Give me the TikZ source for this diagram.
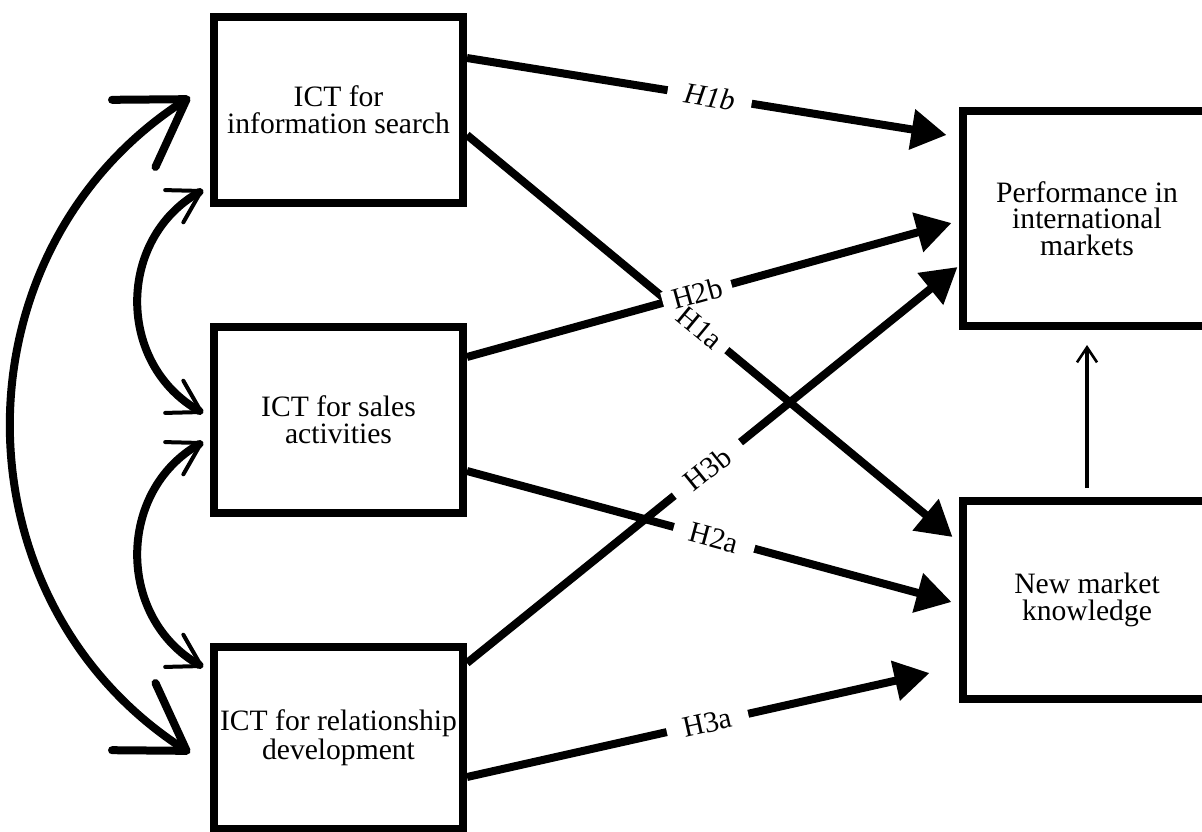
\documentclass[tikz,border=0pt]{standalone}
\usepackage{fontspec}
\setmainfont{Liberation Serif}
\usetikzlibrary{arrows.meta,calc}

\begin{document}
\begin{tikzpicture}[x=0.5pt,y=-0.5pt,
  box/.style={draw, line width=4pt, minimum width=124.5pt, align=center,
    inner sep=0pt, font=\fontsize{14.8pt}{13.3pt}\selectfont},
  hyp/.style={line width=4pt, -{Triangle[length=17.5pt,width=19.5pt]}},
  lab/.style={fill=white, sloped, inner xsep=8.5pt, inner ysep=0pt,
    font=\fontsize{14.8pt}{14pt}\selectfont},
  tightlab/.style={lab, inner xsep=5pt},
  bigcorr/.style={line width=4pt, line cap=round,
    {Straight Barb[length=31.5pt,width=40pt,round]}-{Straight Barb[length=31.5pt,width=40pt,round]}},
  smallcorr/.style={line width=4pt, line cap=round,
    {Straight Barb[length=15.5pt,width=18.5pt,line width=2pt,round]}-{Straight Barb[length=15.5pt,width=18.5pt,line width=2pt,round]}},
  med/.style={line width=2pt, -{Straight Barb[length=7.5pt,width=10pt,line width=1.3pt]}}
]
\useasboundingbox (0,0) rectangle (1202,831);

% constructs
\node[box, minimum height=93pt] (A) at (338.5,110) {ICT for\\information search};
\node[box, minimum height=93pt] (B) at (338.5,420) {ICT for sales\\activities};
\node[box, minimum height=91pt] (C) at (338.5,738) {ICT for relationship\\development};
\node[box, minimum height=107.5pt] (P) at (1087,218.5) {Performance in\\international\\markets};
\node[box, minimum height=99pt] (N) at (1087,600) {New market\\knowledge};

% end points of the hypothesised paths
\coordinate (a1) at ($(A.east)+(0,-52)$);
\coordinate (a2) at ($(A.east)+(0,25)$);
\coordinate (b1) at ($(B.east)+(0,-63)$);
\coordinate (b2) at ($(B.east)+(0,51)$);
\coordinate (c1) at ($(C.east)+(0,-75)$);
\coordinate (c2) at ($(C.east)+(0,39)$);
\coordinate (p1) at ($(P.west)+(-12,-83.5)$);
\coordinate (p2) at ($(P.west)+(-7,4.5)$);
\coordinate (p3) at ($(P.west)+(-1,48.5)$);
\coordinate (n1) at ($(N.west)+(-6,-63)$);
\coordinate (n2) at ($(N.west)+(-7,2)$);
\coordinate (n3) at ($(N.west)+(-29,73)$);

% paths
\draw[hyp] (a1) -- (p1);
\draw[hyp] (a2) -- (n1);
\draw[hyp] (b1) -- (p2);
\draw[hyp] (b2) -- (n2);
\draw[hyp] (c1) -- (p3);
\draw[hyp] (c2) -- (n3);

% knowledge -> performance
\coordinate (nk) at ($(N.north)+(0,-9)$);
\coordinate (pf) at ($(P.south)+(0,15)$);
\draw[med] (nk) -- (pf);

% labels on the paths
\path (a1) -- (p1) node[lab, pos=0.506] {\itshape H1b};
\path (a2) -- (n1) node[tightlab, pos=0.48] {H1a};
\path (b1) -- (p2) node[tightlab, pos=0.475] {H2b};
\path (c1) -- (p3) node[lab, pos=0.49] {H3b};
\path (b2) -- (n2) node[lab, pos=0.51] {H2a};
\path (c2) -- (n3) node[lab, pos=0.52] {H3a};

% correlations between the ICT uses
\coordinate (at) at ($(A.west)+(-20,-13)$);
\coordinate (cb) at ($(C.west)+(-20,15)$);
\coordinate (ab) at ($(A.west)+(-7,80)$);
\coordinate (ba) at ($(B.west)+(-7,-7)$);
\coordinate (bc) at ($(B.west)+(-7,22)$);
\coordinate (cu) at ($(C.west)+(-7,-71)$);
\draw[bigcorr] (at) .. controls +(-238,154) and +(-238,-154) .. (cb);
\draw[smallcorr] (ab) .. controls +(-86.6,48.8) and +(-86.6,-48.8) .. (ba);
\draw[smallcorr] (bc) .. controls +(-86.6,48.8) and +(-86.6,-48.8) .. (cu);
\end{tikzpicture}
\end{document}
